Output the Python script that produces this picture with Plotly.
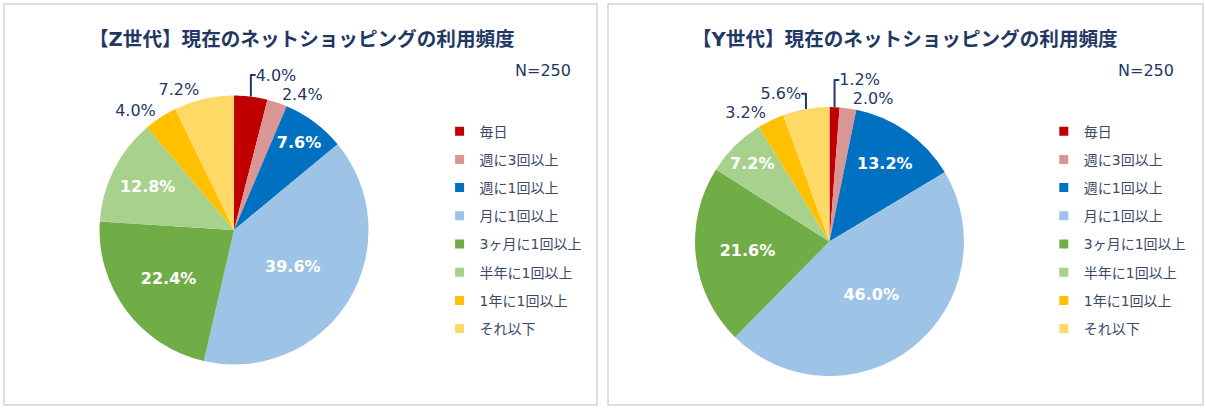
import plotly.graph_objects as go

# ---- data ----
categories = ["毎日", "週に3回以上", "週に1回以上", "月に1回以上",
              "3ヶ月に1回以上", "半年に1回以上", "1年に1回以上", "それ以下"]
z_values = [4.0, 2.4, 7.6, 39.6, 22.4, 12.8, 4.0, 7.2]
y_values = [1.2, 2.0, 13.2, 46.0, 21.6, 7.2, 3.2, 5.6]
colors = ["#C00000", "#DA9694", "#0070C0", "#9DC3E6",
          "#70AD47", "#A9D18E", "#FFC000", "#FFD966"]
z_title = "【Z世代】現在のネットショッピングの利用頻度"
y_title = "【Y世代】現在のネットショッピングの利用頻度"
n_label = "N=250"
text_pos = ["outside", "outside", "inside", "inside",
            "inside", "inside", "outside", "outside"]

FONT = "DejaVu Sans, Noto Sans CJK JP, sans-serif"
NAVY = "#1F3864"
LEG = "#3B4A66"

fig = go.Figure()

def add_pie(values, dom_x, dom_y):
    fig.add_trace(go.Pie(
        labels=categories, values=values, sort=False, direction="clockwise",
        rotation=0, marker=dict(colors=colors, line=dict(width=0)),
        texttemplate="%{value:.1f}%", textposition=text_pos,
        insidetextorientation="horizontal",
        insidetextfont=dict(family=FONT, size=16, color="white", weight="bold"),
        outsidetextfont=dict(family=FONT, size=16, color=NAVY),
        domain=dict(x=dom_x, y=dom_y), showlegend=False, hoverinfo="label+value",
    ))

add_pie(z_values, [0.0825, 0.3056], [0.111, 0.767])
add_pie(y_values, [0.5763, 0.7993], [0.083, 0.739])

# legend entries (one per category, for each panel)
for leg in ["legend", "legend2"]:
    for i, (c, col) in enumerate(zip(categories, colors)):
        fig.add_trace(go.Scatter(
            x=[None], y=[None], mode="markers", name=c,
            marker=dict(symbol="square", size=9, color=col),
            legend=leg, legendgroup=f"{leg}{i}", showlegend=True,
        ))

legend_common = dict(
    font=dict(family=FONT, size=14, color=LEG),
    bgcolor="rgba(0,0,0,0)", tracegroupgap=7, itemclick=False,
    itemdoubleclick=False, yanchor="top", xanchor="left",
)

fig.update_layout(
    width=1206, height=410, margin=dict(l=0, r=0, t=0, b=0),
    paper_bgcolor="white", plot_bgcolor="white",
    xaxis=dict(visible=False), yaxis=dict(visible=False),
    legend=dict(x=0.3645, y=0.718, **legend_common),
    legend2=dict(x=0.8655, y=0.718, **legend_common),
    shapes=[
        dict(type="rect", xref="paper", yref="paper", x0=4/1206, x1=597/1206,
             y0=(410-405)/410, y1=(410-4)/410, line=dict(color="#D4D4D4", width=1.5)),
        dict(type="rect", xref="paper", yref="paper", x0=608/1206, x1=1203/1206,
             y0=(410-405)/410, y1=(410-4)/410, line=dict(color="#D4D4D4", width=1.5)),
    ],
    annotations=[
        dict(text=f"<b>{z_title}</b>", x=302/1206, y=(410-40)/410, xref="paper", yref="paper",
             xanchor="center", yanchor="middle", showarrow=False,
             font=dict(family=FONT, size=19.6, color=NAVY)),
        dict(text=f"<b>{y_title}</b>", x=905/1206, y=(410-40)/410, xref="paper", yref="paper",
             xanchor="center", yanchor="middle", showarrow=False,
             font=dict(family=FONT, size=19.6, color=NAVY)),
        dict(text=n_label, x=543/1206, y=(410-70)/410, xref="paper", yref="paper",
             xanchor="center", yanchor="middle", showarrow=False,
             font=dict(family=FONT, size=16, color=NAVY)),
        dict(text=n_label, x=1146/1206, y=(410-70)/410, xref="paper", yref="paper",
             xanchor="center", yanchor="middle", showarrow=False,
             font=dict(family=FONT, size=16, color=NAVY)),
    ],
)

fig.write_html("out.html", config={"displayModeBar": False},
               post_script="document.body.style.margin='0px';")
